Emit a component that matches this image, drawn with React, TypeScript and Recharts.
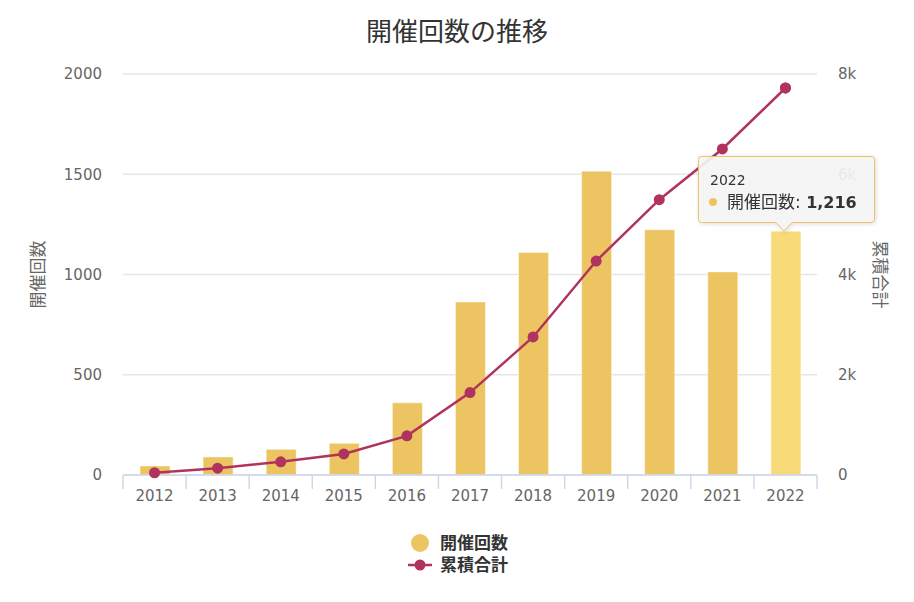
import React from "react";
import { ComposedChart, Bar, Line, XAxis, YAxis, CartesianGrid, Tooltip, Legend, Cell } from "recharts";

const years = ["2012", "2013", "2014", "2015", "2016", "2017", "2018", "2019", "2020", "2021", "2022"];
const counts = [45, 90, 128, 158, 360, 863, 1110, 1515, 1223, 1013, 1216];
const totals = [45, 135, 263, 421, 781, 1644, 2754, 4269, 5492, 6505, 7721];
const leftTicks = [0, 500, 1000, 1500, 2000];
const rightTicks = [0, 2000, 4000, 6000, 8000];

const BAR = "#ECC562";
const BAR_HOVER = "#F8DB78";
const LINE = "#B0335F";
const AXIS = "#ccd6eb";
const GRID = "#e6e6e6";
const FONT = '"DejaVu Sans", "Noto Sans CJK JP", sans-serif';

const W = 914;
const H = 602;
const PLOT_LEFT = 123;
const PLOT_RIGHT = 817;
const BAND = (PLOT_RIGHT - PLOT_LEFT) / years.length;
const HOVER_INDEX = 10;

const data = years.map((year, i) => ({ year, count: counts[i], total: totals[i] }));

function YearTick({ x, y, payload }: any) {
  const half = BAND / 2;
  const last = payload.value === years[years.length - 1];
  return (
    <g>
      <line x1={x - half} y1={y} x2={x - half} y2={y + 14} stroke={AXIS} strokeWidth={1.4} />
      {last && <line x1={x + half} y1={y} x2={x + half} y2={y + 14} stroke={AXIS} strokeWidth={1.4} />}
      <text x={x} y={y + 26} textAnchor="middle" fill="#666" fontSize={15} fontFamily={FONT}>
        {payload.value}
      </text>
    </g>
  );
}

function AxisTitle({ viewBox, value, side }: any) {
  const { x, y, width, height } = viewBox;
  const cx = side === "left" ? x + 38 : x + width - 34;
  const cy = y + height / 2;
  return (
    <text
      x={cx}
      y={cy}
      transform={`rotate(${side === "left" ? -90 : 90} ${cx} ${cy})`}
      textAnchor="middle"
      dominantBaseline="central"
      fill="#666"
      fontSize={17}
      fontFamily={FONT}
    >
      {value}
    </text>
  );
}

function CountTooltip({ active, payload, label }: any) {
  if (!active || !payload?.length) return null;
  const item = payload.find((p: any) => p.dataKey === "count");
  if (!item) return null;
  const w = 176;
  const h = 66;
  const tip = 86;
  const path = `M3.5 0.5 H${w - 3} Q${w + 0.5} 0.5 ${w + 0.5} 3.5 V${h - 3} Q${w + 0.5} ${h + 0.5} ${w - 3} ${h + 0.5} H${tip + 8} L${tip} ${h + 9} L${tip - 8} ${h + 0.5} H3.5 Q0.5 ${h + 0.5} 0.5 ${h - 3} V3.5 Q0.5 0.5 3.5 0.5 Z`;
  return (
    <svg width={w + 4} height={h + 14} style={{ display: "block", overflow: "visible", filter: "drop-shadow(1px 1px 2px rgba(0,0,0,0.15))" }}>
      <path d={path} fill="#f7f7f7" fillOpacity={0.9} stroke={BAR} strokeWidth={1} />
      <text x={12} y={29} fontSize={14} fill="#333" fontFamily={FONT}>
        {label}
      </text>
      <circle cx={15} cy={46} r={4} fill={BAR} />
      <text x={29} y={52} fontSize={17} fill="#333" fontFamily={FONT}>
        {item.name}:{" "}
        <tspan fontWeight="bold" fontSize={16}>
          {Number(item.value).toLocaleString("en-US")}
        </tspan>
      </text>
    </svg>
  );
}

function SeriesLegend({ payload }: any) {
  const name = (key: string, fallback: string) =>
    payload?.find((p: any) => p.dataKey === key)?.value ?? fallback;
  return (
    <svg width={W} height={60} style={{ overflow: "visible" }}>
      <circle cx={420} cy={18} r={9} fill={BAR} />
      <text x={440} y={24} fontSize={17} fontWeight="bold" fill="#333" fontFamily={FONT}>
        {name("count", "開催回数")}
      </text>
      <line x1={408} x2={432} y1={40} y2={40} stroke={LINE} strokeWidth={2.5} />
      <circle cx={420} cy={40} r={5.5} fill={LINE} />
      <text x={440} y={46} fontSize={17} fontWeight="bold" fill="#333" fontFamily={FONT}>
        {name("total", "累積合計")}
      </text>
    </svg>
  );
}

export default function App() {
  return (
    <div style={{ position: "absolute", left: 0, top: 0, width: W, height: H, background: "#fff", fontFamily: FONT }}>
      <div
        style={{
          position: "absolute",
          top: 12,
          left: 0,
          width: W,
          textAlign: "center",
          fontSize: 26,
          color: "#333",
          fontFamily: '"Noto Sans CJK JP", sans-serif',
          lineHeight: "36px",
        }}
      >
        開催回数の推移
      </div>
      <ComposedChart width={W} height={H} data={data} margin={{ top: 74, right: 0, bottom: 87, left: 0 }}>
        <CartesianGrid yAxisId="left" vertical={false} stroke={GRID} strokeWidth={1.4} />
        <XAxis
          dataKey="year"
          height={40}
          axisLine={{ stroke: AXIS, strokeWidth: 1.4 }}
          tickLine={false}
          tickSize={0}
          tickMargin={0}
          tick={<YearTick />}
          interval={0}
        />
        <YAxis
          yAxisId="left"
          width={PLOT_LEFT}
          domain={[0, 2000]}
          ticks={leftTicks}
          axisLine={false}
          tickLine={false}
          tickSize={6}
          tickMargin={15}
          tick={{ fill: "#666", fontSize: 15 }}
          label={<AxisTitle value="開催回数" side="left" />}
        />
        <YAxis
          yAxisId="right"
          orientation="right"
          width={W - PLOT_RIGHT}
          domain={[0, 8000]}
          ticks={rightTicks}
          axisLine={false}
          tickLine={false}
          tickSize={6}
          tickMargin={15}
          tick={{ fill: "#666", fontSize: 15 }}
          tickFormatter={(v: number) => (v === 0 ? "0" : `${v / 1000}k`)}
          label={<AxisTitle value="累積合計" side="right" />}
        />
        <Bar yAxisId="left" dataKey="count" name="開催回数" barSize={30} fill={BAR} stroke="#ffffff" strokeOpacity={0.45} strokeWidth={1} isAnimationActive={false}>
          {data.map((d, i) => (
            <Cell key={d.year} fill={i === HOVER_INDEX ? BAR_HOVER : BAR} />
          ))}
        </Bar>
        <Line
          yAxisId="right"
          type="linear"
          dataKey="total"
          name="累積合計"
          stroke={LINE}
          strokeWidth={2.5}
          dot={{ r: 5.5, fill: LINE, stroke: LINE, strokeWidth: 0 }}
          activeDot={{ r: 5.5, fill: LINE, stroke: "none" }}
          isAnimationActive={false}
        />
        <Tooltip
          content={<CountTooltip />}
          defaultIndex={HOVER_INDEX}
          active
          cursor={false}
          position={{ x: 698, y: 156 }}
          isAnimationActive={false}
          wrapperStyle={{ outline: "none", zIndex: 10, pointerEvents: "none" }}
        />
        <Legend
          content={<SeriesLegend />}
          wrapperStyle={{ position: "absolute", left: 0, top: 525, width: W, height: 0, overflow: "visible" }}
        />
      </ComposedChart>
    </div>
  );
}
